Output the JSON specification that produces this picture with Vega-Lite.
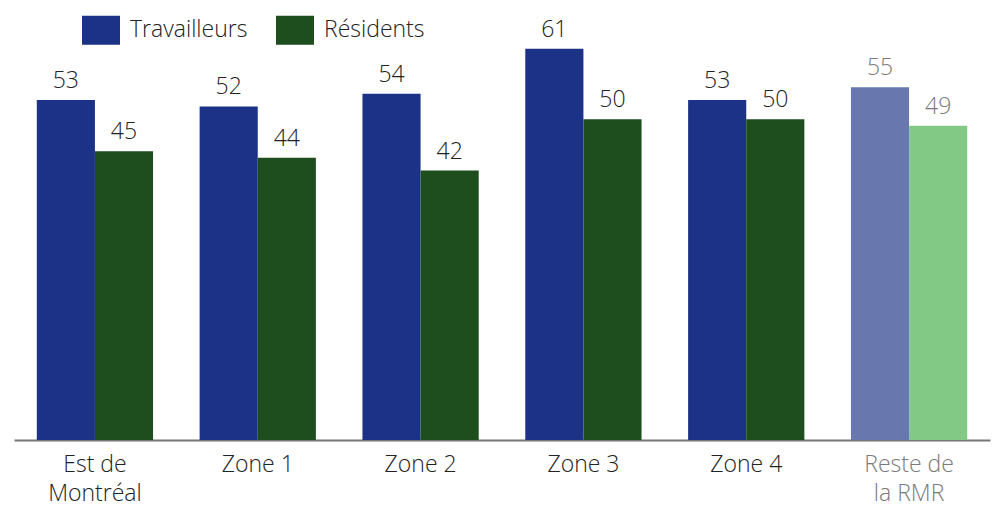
{
  "$schema": "https://vega.github.io/schema/vega-lite/v6.json",
  "width": 976,
  "height": 440,
  "autosize": {"type": "none"},
  "padding": {"left": 14, "top": 0, "right": 2, "bottom": 66},
  "background": "white",
  "config": {"view": {"stroke": null}, "font": "Open Sans"},
  "data": {
    "values": [
      {"zone": "Est de Montréal", "serie": "Travailleurs", "valeur": 53},
      {"zone": "Est de Montréal", "serie": "Résidents", "valeur": 45},
      {"zone": "Zone 1", "serie": "Travailleurs", "valeur": 52},
      {"zone": "Zone 1", "serie": "Résidents", "valeur": 44},
      {"zone": "Zone 2", "serie": "Travailleurs", "valeur": 54},
      {"zone": "Zone 2", "serie": "Résidents", "valeur": 42},
      {"zone": "Zone 3", "serie": "Travailleurs", "valeur": 61},
      {"zone": "Zone 3", "serie": "Résidents", "valeur": 50},
      {"zone": "Zone 4", "serie": "Travailleurs", "valeur": 53},
      {"zone": "Zone 4", "serie": "Résidents", "valeur": 50},
      {"zone": "Reste de la RMR", "serie": "Travailleurs", "valeur": 55},
      {"zone": "Reste de la RMR", "serie": "Résidents", "valeur": 49}
    ]
  },
  "transform": [
    {"calculate": "datum.zone == 'Reste de la RMR' ? datum.serie + ' RMR' : datum.serie", "as": "cle"}
  ],
  "encoding": {
    "x": {
      "field": "zone", "type": "nominal", "sort": null, "title": null,
      "scale": {"paddingInner": 0.286, "paddingOuter": 0.14},
      "axis": {
        "labelAngle": 0, "ticks": false, "domainColor": "#777777", "domainWidth": 2,
        "labelFontSize": 23, "labelFont": "Open Sans", "labelFontWeight": 300,
        "labelPadding": 13, "labelLineHeight": 29, "labelBaseline": "top",
        "labelExpr": "datum.value == 'Est de Montréal' ? ['Est de', 'Montréal'] : datum.value == 'Reste de la RMR' ? ['Reste de', 'la RMR'] : datum.value",
        "labelColor": {"condition": {"test": "datum.value == 'Reste de la RMR'", "value": "#7a7a7a"}, "value": "#222222"}
      }
    },
    "xOffset": {"field": "serie", "type": "nominal", "sort": ["Travailleurs", "Résidents"], "scale": {"paddingInner": 0, "paddingOuter": 0}},
    "y": {"field": "valeur", "type": "quantitative", "scale": {"domain": [0, 68.6], "nice": false}, "axis": null}
  },
  "layer": [
    {
      "mark": {"type": "bar"},
      "encoding": {
        "color": {
          "field": "cle", "type": "nominal",
          "scale": {"domain": ["Travailleurs", "Résidents", "Travailleurs RMR", "Résidents RMR"], "range": ["#1b3286", "#1f4e1e", "#6878ae", "#83c986"]},
          "legend": {
            "values": ["Travailleurs", "Résidents"], "title": null, "orient": "none",
            "direction": "horizontal", "legendX": 68, "legendY": 11,
            "symbolType": "M-1,-0.76H1V0.76H-1Z", "symbolSize": 1444, "symbolStrokeWidth": 0, "symbolOpacity": 1,
            "labelFontSize": 23, "labelFont": "Open Sans", "labelFontWeight": 300, "labelColor": "#222222",
            "labelOffset": 10, "columnPadding": 28
          }
        }
      }
    },
    {
      "mark": {"type": "text", "dy": -12, "baseline": "alphabetic", "fontSize": 23, "font": "Open Sans", "fontWeight": 300},
      "encoding": {
        "text": {"field": "valeur", "type": "quantitative"},
        "color": {"condition": {"test": "datum.zone == 'Reste de la RMR'", "value": "#7a7a7a"}, "value": "#222222"}
      }
    }
  ]
}
